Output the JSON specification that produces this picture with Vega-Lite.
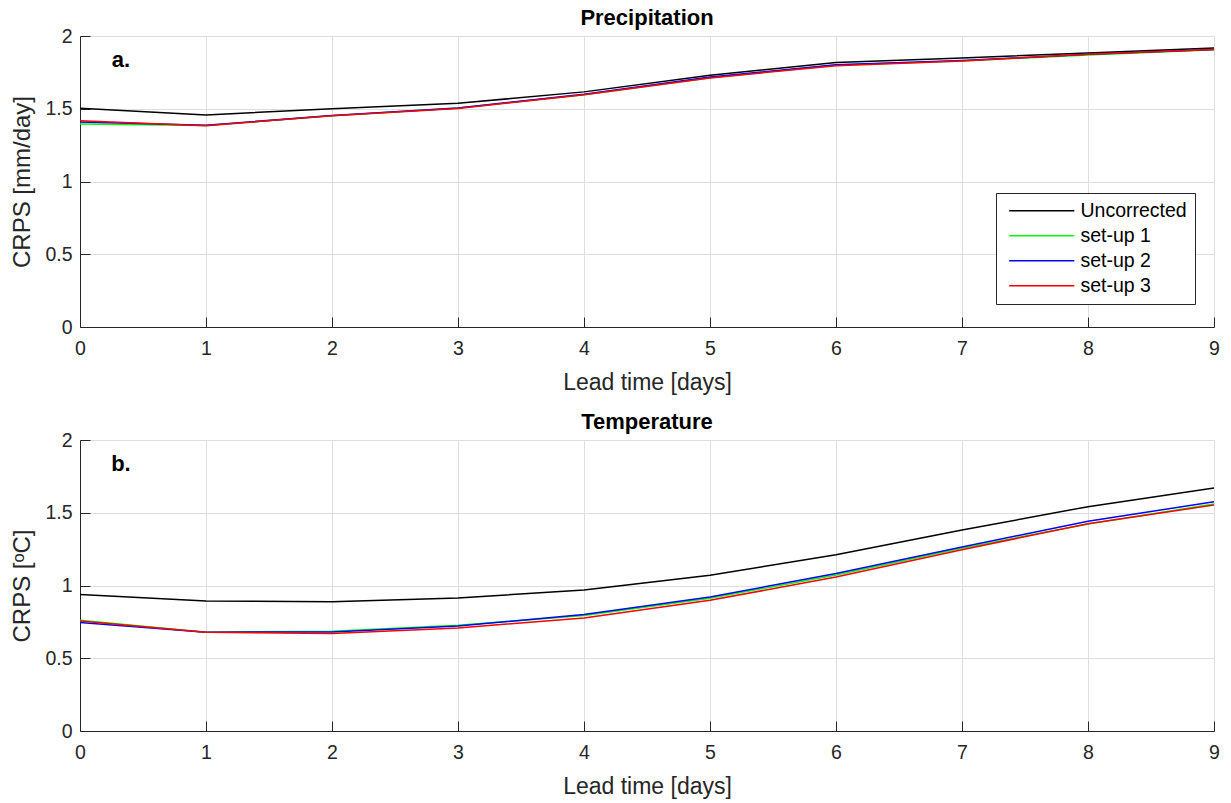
{
  "$schema": "https://vega.github.io/schema/vega-lite/v6.json",
  "background": "white",
  "padding": {"left": 10, "top": 7, "right": 12, "bottom": 2},
  "spacing": 16,
  "datasets": {
    "precip": [
      {"lead": 0, "series": "Uncorrected", "crps": 1.503},
      {"lead": 1, "series": "Uncorrected", "crps": 1.457},
      {"lead": 2, "series": "Uncorrected", "crps": 1.500},
      {"lead": 3, "series": "Uncorrected", "crps": 1.537},
      {"lead": 4, "series": "Uncorrected", "crps": 1.616},
      {"lead": 5, "series": "Uncorrected", "crps": 1.731},
      {"lead": 6, "series": "Uncorrected", "crps": 1.818},
      {"lead": 7, "series": "Uncorrected", "crps": 1.848},
      {"lead": 8, "series": "Uncorrected", "crps": 1.884},
      {"lead": 9, "series": "Uncorrected", "crps": 1.917},
      {"lead": 0, "series": "set-up 1", "crps": 1.395},
      {"lead": 1, "series": "set-up 1", "crps": 1.385},
      {"lead": 2, "series": "set-up 1", "crps": 1.452},
      {"lead": 3, "series": "set-up 1", "crps": 1.505},
      {"lead": 4, "series": "set-up 1", "crps": 1.597},
      {"lead": 5, "series": "set-up 1", "crps": 1.713},
      {"lead": 6, "series": "set-up 1", "crps": 1.800},
      {"lead": 7, "series": "set-up 1", "crps": 1.828},
      {"lead": 8, "series": "set-up 1", "crps": 1.870},
      {"lead": 9, "series": "set-up 1", "crps": 1.905},
      {"lead": 0, "series": "set-up 2", "crps": 1.409},
      {"lead": 1, "series": "set-up 2", "crps": 1.386},
      {"lead": 2, "series": "set-up 2", "crps": 1.453},
      {"lead": 3, "series": "set-up 2", "crps": 1.505},
      {"lead": 4, "series": "set-up 2", "crps": 1.600},
      {"lead": 5, "series": "set-up 2", "crps": 1.718},
      {"lead": 6, "series": "set-up 2", "crps": 1.803},
      {"lead": 7, "series": "set-up 2", "crps": 1.831},
      {"lead": 8, "series": "set-up 2", "crps": 1.874},
      {"lead": 9, "series": "set-up 2", "crps": 1.908},
      {"lead": 0, "series": "set-up 3", "crps": 1.418},
      {"lead": 1, "series": "set-up 3", "crps": 1.384},
      {"lead": 2, "series": "set-up 3", "crps": 1.452},
      {"lead": 3, "series": "set-up 3", "crps": 1.502},
      {"lead": 4, "series": "set-up 3", "crps": 1.596},
      {"lead": 5, "series": "set-up 3", "crps": 1.712},
      {"lead": 6, "series": "set-up 3", "crps": 1.796},
      {"lead": 7, "series": "set-up 3", "crps": 1.829},
      {"lead": 8, "series": "set-up 3", "crps": 1.874},
      {"lead": 9, "series": "set-up 3", "crps": 1.907}
    ],
    "temp": [
      {"lead": 0, "series": "Uncorrected", "crps": 0.939},
      {"lead": 1, "series": "Uncorrected", "crps": 0.893},
      {"lead": 2, "series": "Uncorrected", "crps": 0.889},
      {"lead": 3, "series": "Uncorrected", "crps": 0.914},
      {"lead": 4, "series": "Uncorrected", "crps": 0.969},
      {"lead": 5, "series": "Uncorrected", "crps": 1.070},
      {"lead": 6, "series": "Uncorrected", "crps": 1.211},
      {"lead": 7, "series": "Uncorrected", "crps": 1.381},
      {"lead": 8, "series": "Uncorrected", "crps": 1.542},
      {"lead": 9, "series": "Uncorrected", "crps": 1.670},
      {"lead": 0, "series": "set-up 1", "crps": 0.761},
      {"lead": 1, "series": "set-up 1", "crps": 0.679},
      {"lead": 2, "series": "set-up 1", "crps": 0.686},
      {"lead": 3, "series": "set-up 1", "crps": 0.727},
      {"lead": 4, "series": "set-up 1", "crps": 0.793},
      {"lead": 5, "series": "set-up 1", "crps": 0.912},
      {"lead": 6, "series": "set-up 1", "crps": 1.072},
      {"lead": 7, "series": "set-up 1", "crps": 1.256},
      {"lead": 8, "series": "set-up 1", "crps": 1.423},
      {"lead": 9, "series": "set-up 1", "crps": 1.560},
      {"lead": 0, "series": "set-up 2", "crps": 0.745},
      {"lead": 1, "series": "set-up 2", "crps": 0.679},
      {"lead": 2, "series": "set-up 2", "crps": 0.681},
      {"lead": 3, "series": "set-up 2", "crps": 0.722},
      {"lead": 4, "series": "set-up 2", "crps": 0.800},
      {"lead": 5, "series": "set-up 2", "crps": 0.921},
      {"lead": 6, "series": "set-up 2", "crps": 1.083},
      {"lead": 7, "series": "set-up 2", "crps": 1.265},
      {"lead": 8, "series": "set-up 2", "crps": 1.441},
      {"lead": 9, "series": "set-up 2", "crps": 1.576},
      {"lead": 0, "series": "set-up 3", "crps": 0.756},
      {"lead": 1, "series": "set-up 3", "crps": 0.678},
      {"lead": 2, "series": "set-up 3", "crps": 0.670},
      {"lead": 3, "series": "set-up 3", "crps": 0.708},
      {"lead": 4, "series": "set-up 3", "crps": 0.777},
      {"lead": 5, "series": "set-up 3", "crps": 0.898},
      {"lead": 6, "series": "set-up 3", "crps": 1.058},
      {"lead": 7, "series": "set-up 3", "crps": 1.246},
      {"lead": 8, "series": "set-up 3", "crps": 1.425},
      {"lead": 9, "series": "set-up 3", "crps": 1.553}
    ]
  },
  "vconcat": [
    {
      "width": 1134,
      "height": 291,
      "title": {"text": "Precipitation"},
      "layer": [
        {
          "data": {"name": "precip"},
          "mark": {"type": "line", "strokeWidth": 1.5, "clip": true},
          "encoding": {
            "x": {"field": "lead", "type": "quantitative", "title": "Lead time [days]",
                  "scale": {"domain": [0, 9], "nice": false},
                  "axis": {"values": [0, 1, 2, 3, 4, 5, 6, 7, 8, 9], "format": "d"}},
            "y": {"field": "crps", "type": "quantitative", "title": "CRPS [mm/day]",
                  "scale": {"domain": [0, 2], "nice": false},
                  "axis": {"values": [0, 0.5, 1, 1.5, 2], "format": ".1~f"}},
            "color": {"field": "series", "type": "nominal", "title": null,
                      "scale": {"domain": ["Uncorrected", "set-up 1", "set-up 2", "set-up 3"],
                                "range": ["#000000", "#00ff00", "#0000ff", "#ff0000"]},
                      "legend": {"orient": "none", "legendX": 916, "legendY": 157}}
          }
        },
        {
          "data": {"values": [{"lead": 0.325, "crps": 1.835, "tag": "a."}]},
          "mark": {"type": "text", "fontWeight": "bold", "fontSize": 22, "font": "Liberation Sans", "align": "center", "baseline": "middle", "color": "#000000"},
          "encoding": {
            "x": {"field": "lead", "type": "quantitative"},
            "y": {"field": "crps", "type": "quantitative"},
            "text": {"field": "tag"}
          }
        }
      ]
    },
    {
      "width": 1134,
      "height": 291,
      "title": {"text": "Temperature"},
      "layer": [
        {
          "data": {"name": "temp"},
          "mark": {"type": "line", "strokeWidth": 1.5, "clip": true},
          "encoding": {
            "x": {"field": "lead", "type": "quantitative", "title": "Lead time [days]",
                  "scale": {"domain": [0, 9], "nice": false},
                  "axis": {"values": [0, 1, 2, 3, 4, 5, 6, 7, 8, 9], "format": "d"}},
            "y": {"field": "crps", "type": "quantitative", "title": "CRPS [ᵒC]",
                  "scale": {"domain": [0, 2], "nice": false},
                  "axis": {"values": [0, 0.5, 1, 1.5, 2], "format": ".1~f"}},
            "color": {"field": "series", "type": "nominal",
                      "scale": {"domain": ["Uncorrected", "set-up 1", "set-up 2", "set-up 3"],
                                "range": ["#000000", "#00ff00", "#0000ff", "#ff0000"]},
                      "legend": null}
          }
        },
        {
          "data": {"values": [{"lead": 0.325, "crps": 1.835, "tag": "b."}]},
          "mark": {"type": "text", "fontWeight": "bold", "fontSize": 22, "font": "Liberation Sans", "align": "center", "baseline": "middle", "color": "#000000"},
          "encoding": {
            "x": {"field": "lead", "type": "quantitative"},
            "y": {"field": "crps", "type": "quantitative"},
            "text": {"field": "tag"}
          }
        }
      ]
    }
  ],
  "resolve": {"legend": {"color": "independent"}},
  "config": {
    "view": {"stroke": null},
    "font": "Liberation Sans",
    "title": {"font": "Liberation Sans", "fontSize": 22, "fontWeight": "bold", "color": "#000000", "anchor": "middle", "frame": "group", "offset": -4},
    "axis": {
      "labelFont": "Liberation Sans",
      "labelFontSize": 19.5,
      "labelColor": "#262626",
      "titleFont": "Liberation Sans",
      "titleFontSize": 23,
      "titleFontWeight": "normal",
      "titleColor": "#262626",
      "domainColor": "#262626",
      "domainWidth": 1,
      "tickColor": "#262626",
      "tickSize": -10,
      "tickWidth": 1,
      "gridColor": "#dedede",
      "gridWidth": 1,
      "labelFlush": false,
      "labelOverlap": false
    },
    "axisX": {"labelPadding": 22, "titlePadding": 14},
    "axisY": {"labelPadding": 18, "titlePadding": 10, "titleFontSize": 24},
    "legend": {
      "symbolType": "M-4,0H4",
      "symbolSize": 265,
      "symbolOffset": 28,
      "symbolStrokeWidth": 1.5,
      "labelFont": "Liberation Sans",
      "labelFontSize": 19.5,
      "labelColor": "#000000",
      "labelOffset": 29,
      "strokeColor": "#262626",
      "fillColor": "#ffffff",
      "padding": 8,
      "rowPadding": 4
    }
  }
}
